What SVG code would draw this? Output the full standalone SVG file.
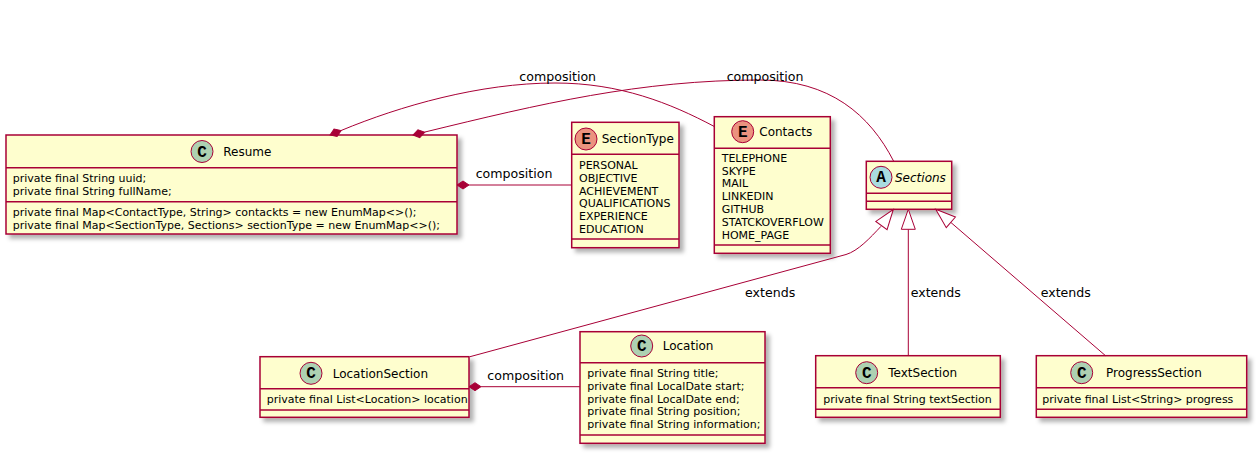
<svg xmlns="http://www.w3.org/2000/svg" width="1257" height="453" viewBox="0 0 1257 453">
<style>
.box{fill:#FEFECE;stroke:#A80036;stroke-width:1.5;filter:url(#sh)}
.sep{stroke:#A80036;stroke-width:1.5;fill:none}
.edge{fill:none;stroke:#A80036;stroke-width:1}
.dia{fill:#A80036;stroke:#A80036;stroke-width:1}
.tri{fill:#FFFFFF;stroke:#A80036;stroke-width:1}
.cc{fill:#ADD1B2;stroke:#A80036;stroke-width:1}
.ce{fill:#EB937F;stroke:#A80036;stroke-width:1}
.ca{fill:#A9DCDF;stroke:#A80036;stroke-width:1}
.ico{font-family:"Liberation Mono",monospace;font-weight:bold;font-size:16px;text-anchor:middle;fill:#000}
.name{font-family:"DejaVu Sans",sans-serif;font-size:12px;fill:#000}
.it{font-style:italic}
.attr{font-family:"DejaVu Sans",sans-serif;font-size:11px;fill:#000}
.lbl{font-family:"DejaVu Sans",sans-serif;font-size:12.6px;fill:#000}
</style>
<defs>
<filter id="sh" x="-10%" y="-10%" width="130%" height="140%">
<feDropShadow dx="4" dy="4" stdDeviation="2" flood-color="#000" flood-opacity="0.3"/>
</filter>
</defs>

<g id="Resume">
<rect class="box" x="6" y="135" width="451" height="99"/>
<line class="sep" x1="6" y1="167.7" x2="457" y2="167.7"/>
<line class="sep" x1="6" y1="201.7" x2="457" y2="201.7"/>
<circle class="cc" cx="202" cy="151.5" r="11"/>
<text class="ico" x="202" y="156.5">C</text>
<text class="name" x="223.3" y="156">Resume</text>
<text class="attr" x="12.7" y="181.5">private final String uuid;</text>
<text class="attr" x="12.7" y="194.5">private final String fullName;</text>
<text class="attr" x="12.7" y="215.5">private final Map&lt;ContactType, String&gt; contackts = new EnumMap&lt;&gt;();</text>
<text class="attr" x="12.7" y="228.5">private final Map&lt;SectionType, Sections&gt; sectionType = new EnumMap&lt;&gt;();</text>
</g>

<g id="SectionType">
<rect class="box" x="571.7" y="122.3" width="107.3" height="125.4"/>
<line class="sep" x1="571.7" y1="154.3" x2="679" y2="154.3"/>
<line class="sep" x1="571.7" y1="239" x2="679" y2="239"/>
<circle class="ce" cx="586" cy="139" r="11"/>
<text class="ico" x="586" y="144">E</text>
<text class="name" x="601.7" y="143.3">SectionType</text>
<text class="attr" x="579" y="169.3">PERSONAL</text>
<text class="attr" x="579" y="182">OBJECTIVE</text>
<text class="attr" x="579" y="194.7">ACHIEVEMENT</text>
<text class="attr" x="579" y="207.3">QUALIFICATIONS</text>
<text class="attr" x="579" y="220">EXPERIENCE</text>
<text class="attr" x="579" y="232.7">EDUCATION</text>
</g>

<g id="Contacts">
<rect class="box" x="714.3" y="116.7" width="116" height="136.6"/>
<line class="sep" x1="714.3" y1="148.3" x2="830.3" y2="148.3"/>
<line class="sep" x1="714.3" y1="245" x2="830.3" y2="245"/>
<circle class="ce" cx="742.7" cy="131.7" r="11"/>
<text class="ico" x="742.7" y="136.7">E</text>
<text class="name" x="759.3" y="136">Contacts</text>
<text class="attr" x="721.7" y="161.7">TELEPHONE</text>
<text class="attr" x="721.7" y="174.5">SKYPE</text>
<text class="attr" x="721.7" y="187.3">MAIL</text>
<text class="attr" x="721.7" y="200.1">LINKEDIN</text>
<text class="attr" x="721.7" y="212.9">GITHUB</text>
<text class="attr" x="721.7" y="225.7">STATCKOVERFLOW</text>
<text class="attr" x="721.7" y="238.5">HOME_PAGE</text>
</g>

<g id="Sections">
<rect class="box" x="866.3" y="161.3" width="85.4" height="48"/>
<line class="sep" x1="866.3" y1="193.3" x2="951.7" y2="193.3"/>
<line class="sep" x1="866.3" y1="201.3" x2="951.7" y2="201.3"/>
<circle class="ca" cx="881" cy="177.3" r="11"/>
<text class="ico" x="881" y="182.3">A</text>
<text class="name it" x="895" y="181.6">Sections</text>
</g>

<g id="LocationSection">
<rect class="box" x="260" y="356.7" width="209" height="60.6"/>
<line class="sep" x1="260" y1="388.7" x2="469" y2="388.7"/>
<line class="sep" x1="260" y1="410" x2="469" y2="410"/>
<circle class="cc" cx="311" cy="373.3" r="11"/>
<text class="ico" x="311" y="378.3">C</text>
<text class="name" x="332.7" y="377.6">LocationSection</text>
<text class="attr" x="266.7" y="403.3">private final List&lt;Location&gt; location</text>
</g>

<g id="Location">
<rect class="box" x="580" y="331.7" width="185" height="111.6"/>
<line class="sep" x1="580" y1="362.7" x2="765" y2="362.7"/>
<line class="sep" x1="580" y1="435" x2="765" y2="435"/>
<circle class="cc" cx="641.7" cy="346" r="11"/>
<text class="ico" x="641.7" y="351">C</text>
<text class="name" x="662.7" y="350.3">Location</text>
<text class="attr" x="587.3" y="377.3">private final String title;</text>
<text class="attr" x="587.3" y="390">private final LocalDate start;</text>
<text class="attr" x="587.3" y="402.7">private final LocalDate end;</text>
<text class="attr" x="587.3" y="415.3">private final String position;</text>
<text class="attr" x="587.3" y="428">private final String information;</text>
</g>

<g id="TextSection">
<rect class="box" x="815.7" y="355.7" width="184.6" height="61.6"/>
<line class="sep" x1="815.7" y1="387.7" x2="1000.3" y2="387.7"/>
<line class="sep" x1="815.7" y1="409.3" x2="1000.3" y2="409.3"/>
<circle class="cc" cx="866.7" cy="372.7" r="11"/>
<text class="ico" x="866.7" y="377.7">C</text>
<text class="name" x="888.3" y="377">TextSection</text>
<text class="attr" x="823.3" y="403.3">private final String textSection</text>
</g>

<g id="ProgressSection">
<rect class="box" x="1036.3" y="355.7" width="210.4" height="61.6"/>
<line class="sep" x1="1036.3" y1="387.7" x2="1246.7" y2="387.7"/>
<line class="sep" x1="1036.3" y1="409.3" x2="1246.7" y2="409.3"/>
<circle class="cc" cx="1081.7" cy="372.7" r="11"/>
<text class="ico" x="1081.7" y="377.7">C</text>
<text class="name" x="1106" y="377">ProgressSection</text>
<text class="attr" x="1042.3" y="403.3">private final List&lt;String&gt; progress</text>
</g>

<g id="connectors">
<!-- Resume -> Contacts -->
<path class="edge" d="M341.1,130.5 C400,106 480,83 555,83 C620,83 670,103 714.3,126.5"/>
<polygon class="dia" points="0,0 6,-4 12,0 6,4" transform="translate(330,135) rotate(-22)"/>
<text class="lbl" x="519.3" y="81.3">composition</text>
<!-- Resume -> Sections -->
<path class="edge" d="M424.6,132.1 C540,104 640,80 760,80 C830,80 870,115 893.7,161.3"/>
<polygon class="dia" points="0,0 6,-4 12,0 6,4" transform="translate(413,135) rotate(-13)"/>
<text class="lbl" x="726.7" y="81.3">composition</text>
<!-- Resume -> SectionType -->
<line class="edge" x1="469" y1="185" x2="571.7" y2="185"/>
<polygon class="dia" points="457,185 463,181 469,185 463,189"/>
<text class="lbl" x="475.7" y="177.7">composition</text>
<!-- LocationSection -> Location -->
<line class="edge" x1="481" y1="386.7" x2="580" y2="386.7"/>
<polygon class="dia" points="469,386.7 475,382.7 481,386.7 475,390.7"/>
<text class="lbl" x="487.3" y="380">composition</text>
<!-- LocationSection extends Sections -->
<path class="edge" d="M470,356.7 L846,254.5 C858,251 870,238 881,226.3"/>
<polygon class="tri" points="0,0 20,-7 20,7" transform="translate(893.3,209.5) rotate(126.4)"/>
<text class="lbl" x="745" y="296.7">extends</text>
<!-- TextSection extends Sections -->
<line class="edge" x1="908.3" y1="229.3" x2="908.3" y2="355.7"/>
<polygon class="tri" points="908.3,209.3 901.3,229.3 915.3,229.3"/>
<text class="lbl" x="910.7" y="296.7">extends</text>
<!-- ProgressSection extends Sections -->
<line class="edge" x1="950.8" y1="222.4" x2="1105.5" y2="355.7"/>
<polygon class="tri" points="0,0 20,-7 20,7" transform="translate(935.7,209.3) rotate(40.8)"/>
<text class="lbl" x="1040.7" y="296.7">extends</text>
</g>
</svg>
